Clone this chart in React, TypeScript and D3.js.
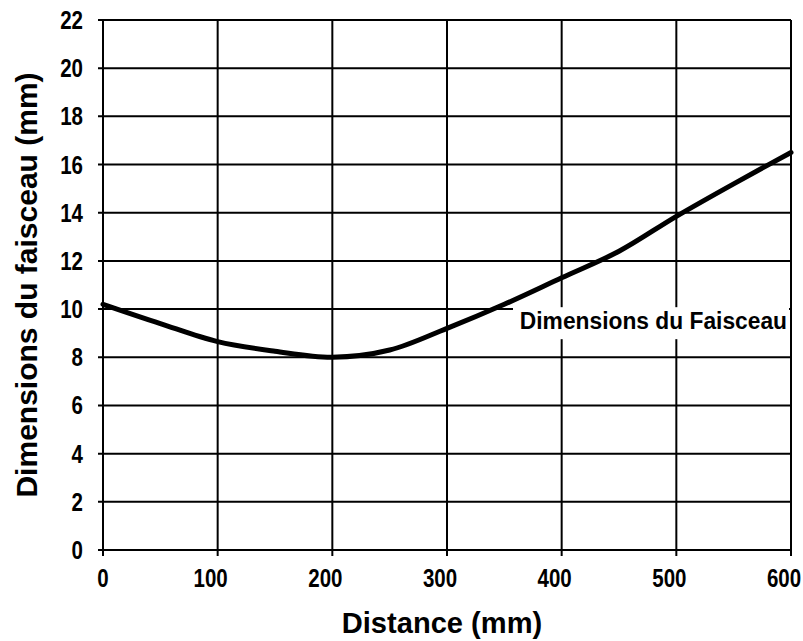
import React, { useEffect, useRef } from "react";
import * as d3 from "d3";

const distances = [0, 50, 100, 150, 200, 250, 300, 350, 400, 450, 500, 550, 600];
const beamSizes = [10.2, 9.4, 8.65, 8.25, 8.0, 8.3, 9.2, 10.2, 11.3, 12.4, 13.85, 15.2, 16.5];
const xTicks = [0, 100, 200, 300, 400, 500, 600];
const yTicks = [0, 2, 4, 6, 8, 10, 12, 14, 16, 18, 20, 22];
const seriesName = "Dimensions du Faisceau";
const xTitle = "Distance (mm)";
const yTitle = "Dimensions du faisceau (mm)";

const WIDTH = 803;
const HEIGHT = 641;
const FONT = "'Liberation Sans', Arial, sans-serif";

export default function App() {
    const ref = useRef<SVGSVGElement>(null);

    useEffect(() => {
        const margin = { top: 20, right: 12, bottom: 91, left: 103 };
        const innerW = WIDTH - margin.left - margin.right;
        const innerH = HEIGHT - margin.top - margin.bottom;

        const x = d3.scaleLinear().domain([0, 600]).range([0, innerW]);
        const y = d3.scaleLinear().domain([0, 22]).range([innerH, 0]);

        const svg = d3.select(ref.current);
        svg.selectAll("*").remove();
        const g = svg.append("g").attr("transform", `translate(${margin.left},${margin.top})`);

        // grid + outside ticks
        g.selectAll("line.hgrid")
            .data(yTicks)
            .enter()
            .append("line")
            .attr("class", "hgrid")
            .attr("x1", -5)
            .attr("x2", innerW)
            .attr("y1", d => y(d))
            .attr("y2", d => y(d))
            .attr("stroke", "#000")
            .attr("stroke-width", 2);
        g.selectAll("line.vgrid")
            .data(xTicks)
            .enter()
            .append("line")
            .attr("class", "vgrid")
            .attr("x1", d => x(d))
            .attr("x2", d => x(d))
            .attr("y1", 0)
            .attr("y2", innerH + 6)
            .attr("stroke", "#000")
            .attr("stroke-width", 2);

        // tick labels (condensed bold)
        g.selectAll("text.ylab")
            .data(yTicks)
            .enter()
            .append("text")
            .attr("class", "ylab")
            .text(d => d)
            .attr("transform", d => `translate(-20,${y(d) + 9}) scale(0.82,1)`)
            .attr("text-anchor", "end")
            .attr("font-family", FONT)
            .attr("font-weight", "bold")
            .attr("font-size", "25px");
        g.selectAll("text.xlab")
            .data(xTicks)
            .enter()
            .append("text")
            .attr("class", "xlab")
            .text(d => d)
            .attr("transform", d => `translate(${x(d) - (String(d).length - 1) * 3.5},${innerH + 37}) scale(0.82,1)`)
            .attr("text-anchor", "middle")
            .attr("font-family", FONT)
            .attr("font-weight", "bold")
            .attr("font-size", "25px");

        // series
        const line = d3.line<number>()
            .x((d, i) => x(distances[i]))
            .y(d => y(d))
            .curve(d3.curveCatmullRom);
        g.append("path")
            .datum(beamSizes)
            .attr("d", line)
            .attr("fill", "none")
            .attr("stroke", "#000")
            .attr("stroke-width", 5)
            .attr("stroke-linejoin", "round")
            .attr("stroke-linecap", "round");

        // series label
        const labelRight = x(600) - 2;
        const labelBase = y(9) - 4.5;
        g.append("rect")
            .attr("x", labelRight - 276)
            .attr("y", labelBase - 21.5)
            .attr("width", 276)
            .attr("height", 32)
            .attr("fill", "#fff");
        g.append("text")
            .text(seriesName)
            .attr("transform", `translate(${labelRight - 2},${labelBase}) scale(0.95,1)`)
            .attr("text-anchor", "end")
            .attr("font-family", FONT)
            .attr("font-weight", "bold")
            .attr("font-size", "24px");

        // axis titles
        svg.append("text")
            .text(xTitle)
            .attr("transform", `translate(${margin.left + innerW / 2 - 5},633) scale(0.97,1)`)
            .attr("text-anchor", "middle")
            .attr("font-family", FONT)
            .attr("font-weight", "bold")
            .attr("font-size", "30px");
        svg.append("text")
            .text(yTitle)
            .attr("transform", `translate(37,${margin.top + innerH / 2}) rotate(-90)`)
            .attr("text-anchor", "middle")
            .attr("font-family", FONT)
            .attr("font-weight", "bold")
            .attr("font-size", "30px");
    }, []);

    return <div style={{ position: "absolute", left: 0, top: 0 }}>
        <svg ref={ref} width={WIDTH} height={HEIGHT} style={{ display: "block", background: "#fff" }}></svg>
    </div>;
}
